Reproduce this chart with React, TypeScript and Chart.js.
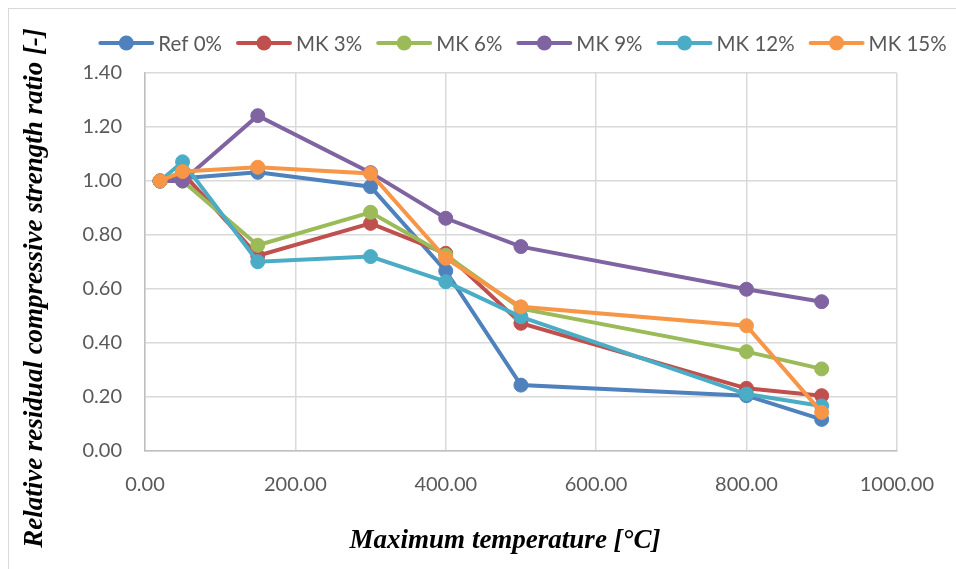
import React, { useEffect, useRef } from "react";
import { Chart, registerables } from "chart.js";

Chart.register(...registerables);

// ---- data ----
const temperatures = [20, 50, 150, 300, 400, 500, 800, 900];
const ref0 = [1.0, 1.01, 1.032, 0.979, 0.667, 0.244, 0.205, 0.117];
const mk3 = [1.0, 1.03, 0.723, 0.843, 0.732, 0.473, 0.232, 0.205];
const mk6 = [1.0, 1.0, 0.762, 0.884, 0.725, 0.527, 0.368, 0.304];
const mk9 = [1.0, 1.0, 1.242, 1.031, 0.862, 0.757, 0.599, 0.553];
const mk12 = [1.0, 1.071, 0.701, 0.72, 0.627, 0.497, 0.211, 0.167];
const mk15 = [1.0, 1.035, 1.051, 1.028, 0.714, 0.534, 0.464, 0.143];

const seriesNames = ["Ref 0%", "MK 3%", "MK 6%", "MK 9%", "MK 12%", "MK 15%"];
const seriesValues = [ref0, mk3, mk6, mk9, mk12, mk15];
const seriesColors = ["#4F81BD", "#C0504D", "#9BBB59", "#8064A2", "#4BACC6", "#F79646"];

const xMin = 0;
const xMax = 1000;
const xStep = 200;
const yMin = 0;
const yMax = 1.4;
const yStep = 0.2;

const xTitle = "Maximum temperature [°C]";
const yTitle = "Relative residual compressive strength ratio [-]";

const TICK_FONT = "Lato";
const TITLE_FONT = "'Liberation Serif', 'DejaVu Serif', serif";

const overlayPlugin = {
  id: "overlay",
  afterDraw(chart: any) {
    const ctx: CanvasRenderingContext2D = chart.ctx;
    ctx.save();
    // legend
    ctx.font = `20.5px ${TICK_FONT}`;
    ctx.textBaseline = "middle";
    ctx.textAlign = "left";
    const items = chart.data.datasets.map((ds: any) => ({
      label: ds.label as string,
      color: ds.borderColor as string,
      w: ctx.measureText(ds.label).width,
    }));
    const lineW = 54;
    const gapText = 5;
    const gapItem = 15;
    const total =
      items.reduce((s: number, it: any) => s + lineW + gapText + it.w, 0) +
      gapItem * (items.length - 1);
    let x = 523 - total / 2;
    const y = 43;
    items.forEach((it: any) => {
      ctx.strokeStyle = it.color;
      ctx.lineWidth = 4;
      ctx.lineCap = "round";
      ctx.beginPath();
      ctx.moveTo(x + 1, y);
      ctx.lineTo(x + lineW - 1, y);
      ctx.stroke();
      ctx.fillStyle = it.color;
      ctx.beginPath();
      ctx.arc(x + lineW / 2, y, 7.5, 0, Math.PI * 2);
      ctx.fill();
      ctx.fillStyle = "#595959";
      ctx.fillText(it.label, x + lineW + gapText, y + 1);
      x += lineW + gapText + it.w + gapItem;
    });

    // axis titles
    ctx.fillStyle = "#000000";
    ctx.font = `italic bold 27px ${TITLE_FONT}`;
    ctx.textAlign = "center";
    ctx.textBaseline = "middle";
    ctx.fillText(xTitle, 505, 541);

    ctx.translate(35, 288);
    ctx.rotate(-Math.PI / 2);
    ctx.fillText(yTitle, 0, 0);
    ctx.restore();
  },
};

export default function App() {
  const canvasRef = useRef<HTMLCanvasElement | null>(null);

  useEffect(() => {
    if (!canvasRef.current) return;
    const datasets = seriesNames.map((name, i) => ({
      label: name,
      data: temperatures.map((t, j) => ({ x: t, y: seriesValues[i][j] })),
      borderColor: seriesColors[i],
      backgroundColor: seriesColors[i],
      pointBackgroundColor: seriesColors[i],
      pointBorderColor: seriesColors[i],
      borderWidth: 4,
      pointRadius: 7,
      pointBorderWidth: 1,
      tension: 0,
      order: seriesNames.length - i,
    }));

    const chart = new Chart(canvasRef.current, {
      type: "line",
      data: { datasets },
      plugins: [overlayPlugin],
      options: {
        animation: false,
        responsive: false,
        maintainAspectRatio: false,
        layout: { padding: { left: 0, right: 58, top: 73, bottom: 0 } },
        plugins: {
          legend: { display: false },
          tooltip: { enabled: false },
          title: { display: false },
        },
        scales: {
          x: {
            type: "linear",
            min: xMin,
            max: xMax,
            afterFit: (scale: any) => {
              scale.height = 118;
            },
            ticks: {
              stepSize: xStep,
              padding: 22,
              color: "#595959",
              font: { family: TICK_FONT, size: 20 },
              maxRotation: 0,
              callback: (v: any) => Number(v).toFixed(2),
            },
            grid: { color: "#d9d9d9", lineWidth: 1.5, drawTicks: false },
            border: { color: "#bfbfbf", width: 1.5 },
          },
          y: {
            type: "linear",
            min: yMin,
            max: yMax,
            afterFit: (scale: any) => {
              scale.width = 145;
            },
            ticks: {
              stepSize: yStep,
              padding: 23,
              color: "#595959",
              font: { family: TICK_FONT, size: 20 },
              callback: (v: any) => Number(v).toFixed(2),
            },
            grid: { color: "#d9d9d9", lineWidth: 1.5, drawTicks: false },
            border: { color: "#bfbfbf", width: 1.5 },
          },
        },
      },
    } as any);
    return () => chart.destroy();
  }, []);

  return (
    <div
      style={{
        position: "fixed",
        left: 0,
        top: 0,
        width: 956,
        height: 569,
        background: "#ffffff",
      }}
    >
      <div
        style={{
          position: "absolute",
          left: 8,
          top: 8,
          width: 960,
          height: 570,
          borderLeft: "1.5px solid #d9d9d9",
          borderTop: "1.5px solid #d9d9d9",
        }}
      />
      <canvas
        ref={canvasRef}
        width={956}
        height={569}
        style={{ position: "absolute", left: 0, top: 0, width: 956, height: 569 }}
      />
    </div>
  );
}
